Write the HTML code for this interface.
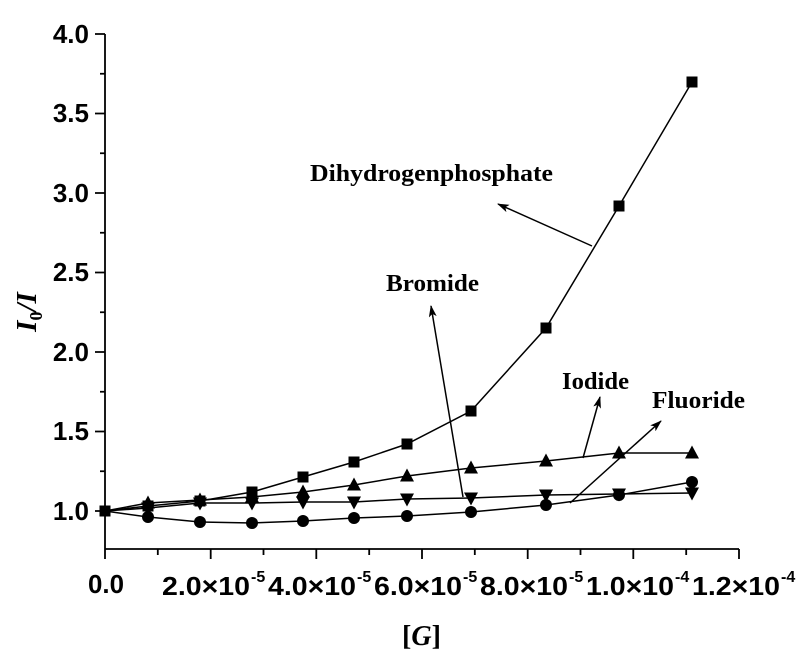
<!DOCTYPE html>
<html><head><meta charset="utf-8"><style>
html,body{margin:0;padding:0;background:#fff;}
svg{display:block;}
.t{font-family:"Liberation Sans",sans-serif;font-weight:bold;fill:#000;}
.s{font-family:"Liberation Serif",serif;font-weight:bold;fill:#000;}
</style></head><body>
<svg width="800" height="660" viewBox="0 0 800 660" xmlns="http://www.w3.org/2000/svg">
<defs>
<marker id="ah" markerWidth="12" markerHeight="8" refX="11" refY="4" orient="auto" markerUnits="userSpaceOnUse">
<path d="M0,0 L12,4 L0,8 L3,4 Z" fill="#000"/>
</marker>
<rect id="sq" x="-5.5" y="-5.5" width="11" height="11" fill="#000"/>
<circle id="ci" r="6" fill="#000"/>
<path id="tu" d="M0,-7.5 L7,5.5 L-7,5.5 Z" fill="#000"/>
<path id="td" d="M0,7.5 L7,-5.5 L-7,-5.5 Z" fill="#000"/>
</defs>
<g stroke="#000" stroke-width="1.8" fill="none">
<line x1="105" y1="34" x2="105" y2="549"/>
<line x1="105" y1="549" x2="739" y2="549"/>
<path d="M95,34H105 M95,113.5H105 M95,193H105 M95,272.5H105 M95,352H105 M95,431.5H105 M95,511H105"/>
<path d="M100,73.75H105 M100,153.25H105 M100,232.75H105 M100,312.25H105 M100,391.75H105 M100,471.25H105"/>
<path d="M105,549V559 M210.7,549V559 M316.3,549V559 M422,549V559 M527.7,549V559 M633.3,549V559 M739,549V559"/>
<path d="M157.8,549V555 M263.5,549V555 M369.2,549V555 M474.8,549V555 M580.5,549V555 M686.2,549V555"/>
</g>
<g class="t" font-size="26" text-anchor="end">
<text x="89" y="43">4.0</text>
<text x="89" y="122">3.5</text>
<text x="89" y="202">3.0</text>
<text x="89" y="281">2.5</text>
<text x="89" y="361">2.0</text>
<text x="89" y="440">1.5</text>
<text x="89" y="520">1.0</text>
</g>
<g class="t" font-size="26">
<text x="88" y="593" textLength="36" lengthAdjust="spacingAndGlyphs">0.0</text>
<text x="162" y="595" textLength="88" lengthAdjust="spacingAndGlyphs">2.0×10</text><text x="251" y="582" font-size="16">-5</text>
<text x="268" y="595" textLength="88" lengthAdjust="spacingAndGlyphs">4.0×10</text><text x="357" y="582" font-size="16">-5</text>
<text x="374" y="595" textLength="88" lengthAdjust="spacingAndGlyphs">6.0×10</text><text x="463" y="582" font-size="16">-5</text>
<text x="480" y="595" textLength="88" lengthAdjust="spacingAndGlyphs">8.0×10</text><text x="569" y="582" font-size="16">-5</text>
<text x="586" y="595" textLength="88" lengthAdjust="spacingAndGlyphs">1.0×10</text><text x="675" y="582" font-size="16">-4</text>
<text x="692" y="595" textLength="88" lengthAdjust="spacingAndGlyphs">1.2×10</text><text x="781" y="582" font-size="16">-4</text>
</g>
<text class="s" x="402" y="645" font-size="28">[<tspan font-style="italic">G</tspan>]</text>
<g transform="translate(36,312) rotate(-90)">
<text class="s" x="0" y="0" font-size="29" font-style="italic" text-anchor="middle">I<tspan font-size="18" dy="6" font-style="normal">0</tspan><tspan dy="-6">/I</tspan></text>
</g>
<g stroke="#000" stroke-width="1.5" fill="none">
<polyline points="105,511 148,506 200,501 252,492 303,477 354,462 407,444 471,411 546,328 619,206 692,82"/>
<polyline points="105,511 148,503 200,500 252,497 303,492 354,485 407,476 471,468 546,461 619,453 692,453"/>
<polyline points="105,511 148,508 200,503 252,503 303,502 354,502 407,499 471,498 546,495 619,494 692,493"/>
<polyline points="105,511 148,517 200,522 252,523 303,521 354,518 407,516 471,512 546,505 619,495 692,482"/>
</g>
<g>
<use href="#sq" x="105" y="511"/><use href="#sq" x="148" y="506"/><use href="#sq" x="200" y="501"/><use href="#sq" x="252" y="492"/><use href="#sq" x="303" y="477"/><use href="#sq" x="354" y="462"/><use href="#sq" x="407" y="444"/><use href="#sq" x="471" y="411"/><use href="#sq" x="546" y="328"/><use href="#sq" x="619" y="206"/><use href="#sq" x="692" y="82"/>
<use href="#tu" x="148" y="503"/><use href="#tu" x="200" y="500"/><use href="#tu" x="252" y="497"/><use href="#tu" x="303" y="492"/><use href="#tu" x="354" y="485"/><use href="#tu" x="407" y="476"/><use href="#tu" x="471" y="468"/><use href="#tu" x="546" y="461"/><use href="#tu" x="619" y="453"/><use href="#tu" x="692" y="453"/>
<use href="#td" x="148" y="508"/><use href="#td" x="200" y="503"/><use href="#td" x="252" y="503"/><use href="#td" x="303" y="502"/><use href="#td" x="354" y="502"/><use href="#td" x="407" y="499"/><use href="#td" x="471" y="498"/><use href="#td" x="546" y="495"/><use href="#td" x="619" y="494"/><use href="#td" x="692" y="493"/>
<use href="#ci" x="148" y="517"/><use href="#ci" x="200" y="522"/><use href="#ci" x="252" y="523"/><use href="#ci" x="303" y="521"/><use href="#ci" x="354" y="518"/><use href="#ci" x="407" y="516"/><use href="#ci" x="471" y="512"/><use href="#ci" x="546" y="505"/><use href="#ci" x="619" y="495"/><use href="#ci" x="692" y="482"/>
<circle cx="105" cy="511" r="4.5" fill="#000"/>
</g>
<g stroke="#000" stroke-width="1.5" fill="none" marker-end="url(#ah)">
<line x1="592" y1="246" x2="498" y2="204"/>
<line x1="463" y1="497" x2="431" y2="306"/>
<line x1="583" y1="458" x2="600" y2="397"/>
<line x1="570" y1="503" x2="661" y2="421"/>
</g>
<g class="s" font-size="24">
<text x="310" y="181" textLength="243" lengthAdjust="spacingAndGlyphs">Dihydrogenphosphate</text>
<text x="386" y="291" textLength="93" lengthAdjust="spacingAndGlyphs">Bromide</text>
<text x="562" y="389" textLength="67" lengthAdjust="spacingAndGlyphs">Iodide</text>
<text x="652" y="408" textLength="93" lengthAdjust="spacingAndGlyphs">Fluoride</text>
</g>
</svg>
</body></html>
